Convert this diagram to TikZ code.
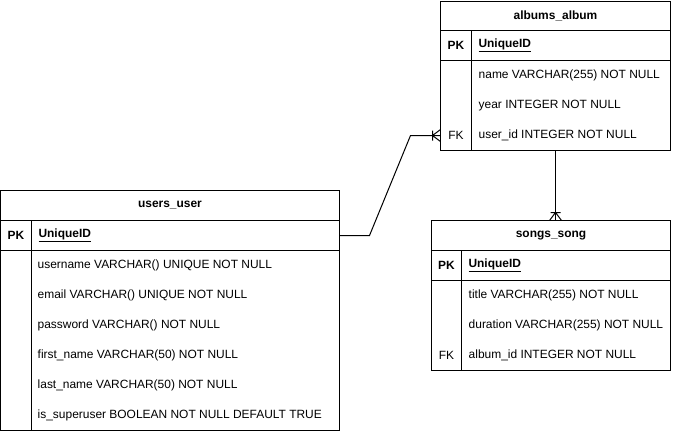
\documentclass[tikz,border=0pt]{standalone}
\usepackage{fontspec}
\setmainfont{Liberation Sans}
\usetikzlibrary{positioning}

\begin{document}
\begin{tikzpicture}[x=1bp, y=-1bp,
    font=\fontsize{12}{14}\selectfont,
    cell/.style={draw, line width=1bp, inner sep=0pt, outer sep=0pt, anchor=north west},
    ttl/.style={cell, minimum height=30bp, font=\fontsize{12}{14}\selectfont\bfseries},
    pkf/.style={cell, minimum height=30bp, inner xsep=7bp, align=left, font=\fontsize{12}{14}\selectfont\bfseries},
    fld/.style={anchor=west, inner sep=0pt},
    key/.style={inner sep=0pt},
    rel/.style={line width=1bp}]
  \useasboundingbox (0,0) rectangle (681,432);

  % albums_album
  \node[ttl, minimum width=230bp, minimum height=29bp] (alb) at (440.5,1.5) {albums\_album};
  \node[cell, minimum width=31bp, minimum height=30bp, font=\fontsize{12}{14}\selectfont\bfseries] (alb-pk) at (alb.south west) {PK};
  \node[pkf, text width=185bp] (alb-pkf) at (alb-pk.north east) {\underline{UniqueID}};
  \node[cell, minimum width=31bp, minimum height=90bp] (alb-bk) at (alb-pk.south west) {};
  \node[cell, minimum width=199bp, minimum height=90bp] (alb-bf) at (alb-bk.north east) {};
  \foreach \t [count=\i from 0] in {name VARCHAR(255) NOT NULL, year INTEGER NOT NULL, user\_id INTEGER NOT NULL}
    \path (alb-bf.north west) ++(7,{15+30*\i}) node[fld] {\t};
  \path (alb-bk.north) ++(0,75) node[key] (alb-fk) {FK};

  % users_user
  \node[ttl, minimum width=339bp] (usr) at (0.5,190.5) {users\_user};
  \node[cell, minimum width=31bp, minimum height=30bp, font=\fontsize{12}{14}\selectfont\bfseries] (usr-pk) at (usr.south west) {PK};
  \node[pkf, text width=294bp] (usr-pkf) at (usr-pk.north east) {\underline{UniqueID}};
  \node[cell, minimum width=31bp, minimum height=180bp] (usr-bk) at (usr-pk.south west) {};
  \node[cell, minimum width=308bp, minimum height=180bp] (usr-bf) at (usr-bk.north east) {};
  \foreach \t [count=\i from 0] in {username VARCHAR() UNIQUE NOT NULL, email VARCHAR() UNIQUE NOT NULL, password VARCHAR() NOT NULL, first\_name VARCHAR(50) NOT NULL, last\_name VARCHAR(50) NOT NULL, is\_superuser BOOLEAN NOT NULL DEFAULT TRUE}
    \path (usr-bf.north west) ++(6,{15+30*\i}) node[fld] {\t};

  % songs_song
  \node[ttl, minimum width=239bp] (sng) at (431.5,220.5) {songs\_song};
  \node[cell, minimum width=30bp, minimum height=30bp, font=\fontsize{12}{14}\selectfont\bfseries] (sng-pk) at (sng.south west) {PK};
  \node[pkf, text width=195bp] (sng-pkf) at (sng-pk.north east) {\underline{UniqueID}};
  \node[cell, minimum width=30bp, minimum height=90bp] (sng-bk) at (sng-pk.south west) {};
  \node[cell, minimum width=209bp, minimum height=90bp] (sng-bf) at (sng-bk.north east) {};
  \foreach \t [count=\i from 0] in {title VARCHAR(255) NOT NULL, duration VARCHAR(255) NOT NULL, album\_id INTEGER NOT NULL}
    \path (sng-bf.north west) ++(7,{15+30*\i}) node[fld] {\t};
  \path (sng-bk.north) ++(0,75) node[key] (sng-fk) {FK};

  % relations
  \coordinate (e1) at (alb.west |- alb-fk);
  \coordinate (e2) at (alb.center |- sng.north);
  \draw[rel] (usr-pkf.east) -- ++(30,0) -- ([xshift=-30bp]e1) -- (e1);
  \draw[rel] ([xshift=-8bp]e1) -- ([yshift=6bp]e1) ([xshift=-8bp]e1) -- ([yshift=-6bp]e1)
    ([xshift=-8bp, yshift=5bp]e1) -- ([xshift=-8bp, yshift=-5bp]e1);
  \draw[rel] (alb.center |- alb-bf.south) -- (e2);
  \draw[rel] ([yshift=8bp]e2) -- ([xshift=-6bp]e2) ([yshift=8bp]e2) -- ([xshift=6bp]e2)
    ([xshift=-5bp, yshift=8bp]e2) -- ([xshift=5bp, yshift=8bp]e2);
\end{tikzpicture}
\end{document}
